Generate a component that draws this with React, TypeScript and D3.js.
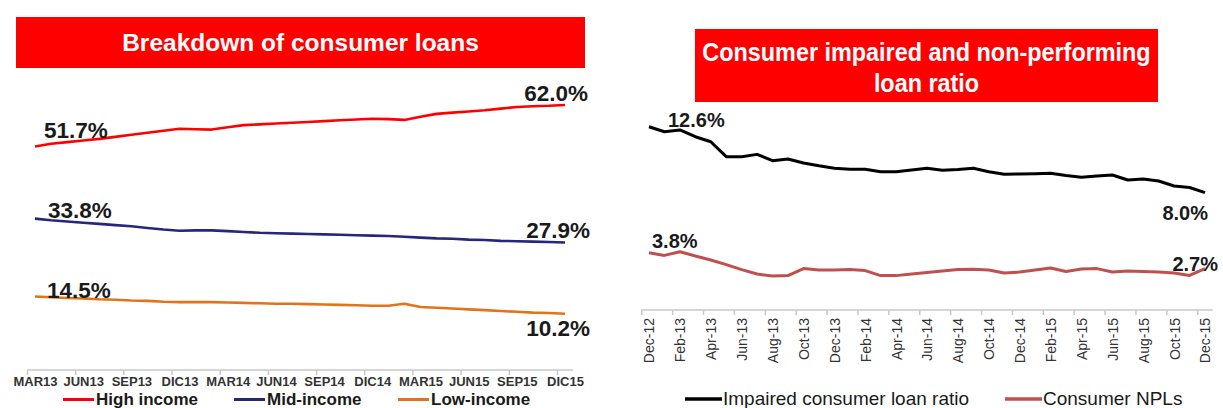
import { useEffect, useRef } from "react";
import * as d3 from "d3";

// left chart: breakdown of consumer loans (monthly, %)
const loanMonths = [
  "MAR13", "ABR13", "MAY13", "JUN13", "JUL13", "AGO13", "SEP13", "OCT13", "NOV13", "DIC13",
  "ENE14", "FEB14", "MAR14", "ABR14", "MAY14", "JUN14", "JUL14", "AGO14", "SEP14", "OCT14", "NOV14", "DIC14",
  "ENE15", "FEB15", "MAR15", "ABR15", "MAY15", "JUN15", "JUL15", "AGO15", "SEP15", "OCT15", "NOV15", "DIC15",
];
const highIncome = [
  51.7, 52.4, 52.8, 53.2, 53.6, 54.1, 54.6, 55.1, 55.6, 56.1, 56.0, 55.9, 56.5, 57.0, 57.2, 57.4, 57.6,
  57.8, 58.0, 58.2, 58.4, 58.6, 58.5, 58.3, 59.1, 59.8, 60.1, 60.4, 60.7, 61.1, 61.5, 61.7, 61.8, 62.0,
];
const midIncome = [
  33.8, 33.4, 33.1, 32.8, 32.5, 32.2, 31.9, 31.5, 31.1, 30.8, 30.9, 30.9, 30.7, 30.5, 30.3, 30.2, 30.1,
  30.0, 29.9, 29.8, 29.7, 29.6, 29.5, 29.3, 29.1, 28.9, 28.8, 28.6, 28.5, 28.3, 28.2, 28.1, 28.0, 27.9,
];
const lowIncome = [
  14.5, 14.3, 14.1, 14.0, 13.8, 13.7, 13.5, 13.4, 13.2, 13.1, 13.1, 13.1, 13.0, 12.9, 12.8, 12.7, 12.7,
  12.6, 12.5, 12.4, 12.3, 12.2, 12.2, 12.7, 11.9, 11.7, 11.5, 11.3, 11.1, 10.9, 10.7, 10.5, 10.4, 10.2,
];

// right chart: impaired and non-performing ratio (monthly, %)
const ratioMonths = [
  "Dec-12", "Jan-13", "Feb-13", "Mar-13", "Apr-13", "May-13", "Jun-13", "Jul-13", "Aug-13", "Sep-13",
  "Oct-13", "Nov-13", "Dec-13", "Jan-14", "Feb-14", "Mar-14", "Apr-14", "May-14", "Jun-14", "Jul-14",
  "Aug-14", "Sep-14", "Oct-14", "Nov-14", "Dec-14", "Jan-15", "Feb-15", "Mar-15", "Apr-15", "May-15",
  "Jun-15", "Jul-15", "Aug-15", "Sep-15", "Oct-15", "Nov-15", "Dec-15",
];
const impairedRatio = [
  12.6, 12.25, 12.37, 11.9, 11.55, 10.51, 10.51, 10.67, 10.23, 10.35, 10.07, 9.87, 9.7, 9.63, 9.63,
  9.46, 9.46, 9.58, 9.7, 9.56, 9.61, 9.7, 9.46, 9.28, 9.3, 9.32, 9.35, 9.19, 9.07, 9.16, 9.23, 8.88,
  8.95, 8.81, 8.46, 8.36, 8.0,
];
const consumerNpl = [
  3.8, 3.62, 3.88, 3.58, 3.3, 2.98, 2.63, 2.32, 2.18, 2.21, 2.7, 2.6, 2.61, 2.63, 2.56, 2.21, 2.21,
  2.32, 2.43, 2.53, 2.63, 2.65, 2.6, 2.39, 2.46, 2.6, 2.74, 2.5, 2.67, 2.7, 2.46, 2.53, 2.5, 2.46,
  2.39, 2.22, 2.7,
];

const FONT = "'Liberation Sans', Arial, sans-serif";

const App = () => {
  const ref = useRef<SVGSVGElement>(null);

  useEffect(() => {
    const svg = d3.select(ref.current);
    svg.selectAll("*").remove();
    svg.attr("font-family", FONT);

    const pct = (v: number) => v.toFixed(1) + "%";

    // ---------- left chart ----------
    const x1 = d3.scalePoint<string>().domain(loanMonths).range([35, 565]);
    const y1 = d3.scaleLinear().domain([0, 62]).range([354.9, 105]);
    const step1 = x1.step();

    const t1 = svg.append("g");
    t1.append("rect").attr("x", 16).attr("y", 17).attr("width", 569).attr("height", 51).attr("fill", "#ff0000");
    t1.append("text")
      .attr("x", 300.5).attr("y", 51)
      .attr("text-anchor", "middle").attr("fill", "#fff")
      .attr("font-size", 24.5).attr("font-weight", "bold")
      .text("Breakdown of consumer loans");

    const xAxis1 = d3
      .axisBottom(x1)
      .tickValues(loanMonths.filter((_, i) => i % 3 === 0))
      .tickSize(5)
      .tickPadding(2);
    svg.append("g")
      .attr("transform", "translate(0,370)")
      .call(xAxis1)
      .call((g) => g.select(".domain").remove())
      .call((g) => g.selectAll(".tick line").attr("x1", -step1 / 2).attr("x2", -step1 / 2).attr("stroke", "#c8c8c8").attr("stroke-width", 1.5))
      .call((g) => g.selectAll(".tick text").attr("font-size", 13).attr("font-weight", "bold").attr("fill", "#333").attr("font-family", FONT));
    svg.append("line")
      .attr("x1", x1(loanMonths[0])! - step1 / 2).attr("x2", x1(loanMonths[loanMonths.length - 1])! + step1 / 2)
      .attr("y1", 370).attr("y2", 370)
      .attr("stroke", "#c8c8c8").attr("stroke-width", 1.5);

    const line1 = d3.line<number>().x((_, i) => x1(loanMonths[i])!).y((d) => y1(d));
    const leftSeries = [
      { name: "High income", values: highIncome, color: "#ff0000" },
      { name: "Mid-income", values: midIncome, color: "#26267d" },
      { name: "Low-income", values: lowIncome, color: "#e3731b" },
    ];
    leftSeries.forEach((s) => {
      svg.append("path").datum(s.values)
        .attr("fill", "none").attr("stroke", s.color).attr("stroke-width", 2.6)
        .attr("stroke-linejoin", "round")
        .attr("d", line1);
    });

    // value labels (first / last)
    const lastL = loanMonths[loanMonths.length - 1];
    const leftLabels = [
      { v: highIncome[0], x: x1(loanMonths[0])! + 9, dy: -9, anchor: "start" },
      { v: highIncome[highIncome.length - 1], x: x1(lastL)! + 23, dy: -4, anchor: "end" },
      { v: midIncome[0], x: x1(loanMonths[0])! + 13, dy: -1, anchor: "start" },
      { v: midIncome[midIncome.length - 1], x: x1(lastL)! + 25, dy: -4, anchor: "end" },
      { v: lowIncome[0], x: x1(loanMonths[0])! + 12, dy: 2, anchor: "start" },
      { v: lowIncome[lowIncome.length - 1], x: x1(lastL)! + 25, dy: 22, anchor: "end" },
    ];
    svg.append("g").selectAll("text").data(leftLabels).enter().append("text")
      .attr("x", (d) => d.x).attr("y", (d) => y1(d.v) + d.dy)
      .attr("text-anchor", (d) => d.anchor)
      .attr("font-size", 22.5).attr("font-weight", "bold").attr("fill", "#1a1a1a")
      .text((d) => pct(d.v));

    // legend
    const legX1 = [63, 234, 398];
    const leg1 = svg.append("g").selectAll("g").data(leftSeries).enter().append("g")
      .attr("transform", (_, i) => `translate(${legX1[i]},399.5)`);
    leg1.append("line").attr("x1", 0).attr("x2", 31).attr("y1", 0).attr("y2", 0)
      .attr("stroke", (d) => d.color).attr("stroke-width", 3);
    leg1.append("text").attr("x", 33).attr("y", 5.5)
      .attr("font-size", 17).attr("font-weight", "bold").attr("fill", "#1a1a1a")
      .text((d) => d.name);

    // ---------- right chart ----------
    const x2 = d3.scalePoint<string>().domain(ratioMonths).range([649, 1205]);
    const y2 = d3.scaleLinear().domain([0, 12.6]).range([307.3, 126.7]);
    const step2 = x2.step();

    const t2 = svg.append("g");
    t2.append("rect").attr("x", 695).attr("y", 29).attr("width", 463).attr("height", 73).attr("fill", "#ff0000");
    const t2text = t2.append("g").attr("transform", "translate(926.5,0) scale(0.9,1)");
    ["Consumer impaired and non-performing", "loan ratio"].forEach((l, i) => {
      t2text.append("text")
        .attr("x", 0).attr("y", 61 + i * 31)
        .attr("text-anchor", "middle").attr("fill", "#fff")
        .attr("font-size", 26).attr("font-weight", "bold")
        .text(l);
    });

    const xAxis2 = d3
      .axisBottom(x2)
      .tickValues(ratioMonths.filter((_, i) => i % 2 === 0))
      .tickSize(5);
    svg.append("g")
      .attr("transform", "translate(0,310)")
      .call(xAxis2)
      .call((g) => g.select(".domain").remove())
      .call((g) => g.selectAll(".tick line").attr("x1", -step2 / 2).attr("x2", -step2 / 2).attr("stroke", "#c8c8c8").attr("stroke-width", 1.5))
      .call((g) =>
        g.selectAll(".tick text")
          .attr("transform", "rotate(-90)")
          .attr("text-anchor", "end")
          .attr("x", -8).attr("y", 0).attr("dy", "0.35em")
          .attr("font-size", 14).attr("fill", "#333").attr("font-family", FONT)
      );
    svg.append("line")
      .attr("x1", x2(ratioMonths[0])! - step2 / 2).attr("x2", x2(ratioMonths[ratioMonths.length - 1])! + step2 / 2)
      .attr("y1", 310).attr("y2", 310)
      .attr("stroke", "#c8c8c8").attr("stroke-width", 1.5);

    const line2 = d3.line<number>().x((_, i) => x2(ratioMonths[i])!).y((d) => y2(d));
    const rightSeries = [
      { name: "Impaired consumer loan ratio", values: impairedRatio, color: "#000000" },
      { name: "Consumer NPLs", values: consumerNpl, color: "#c0504d" },
    ];
    rightSeries.forEach((s) => {
      svg.append("path").datum(s.values)
        .attr("fill", "none").attr("stroke", s.color).attr("stroke-width", 3)
        .attr("stroke-linejoin", "round")
        .attr("d", line2);
    });

    const lastR = ratioMonths[ratioMonths.length - 1];
    const rightLabels = [
      { v: impairedRatio[0], x: x2(ratioMonths[0])! + 19, dy: 0, anchor: "start" },
      { v: impairedRatio[impairedRatio.length - 1], x: x2(lastR)! + 3, dy: 27, anchor: "end" },
      { v: consumerNpl[0], x: x2(ratioMonths[0])! + 3, dy: -5, anchor: "start" },
      { v: consumerNpl[consumerNpl.length - 1], x: x2(lastR)! + 13, dy: 2, anchor: "end" },
    ];
    svg.append("g").selectAll("text").data(rightLabels).enter().append("text")
      .attr("x", (d) => d.x).attr("y", (d) => y2(d.v) + d.dy)
      .attr("text-anchor", (d) => d.anchor)
      .attr("font-size", 20).attr("font-weight", "bold").attr("fill", "#1a1a1a")
      .text((d) => pct(d.v));

    const legX2 = [685, 1005];
    const leg2 = svg.append("g").selectAll("g").data(rightSeries).enter().append("g")
      .attr("transform", (_, i) => `translate(${legX2[i]},399)`);
    leg2.append("line").attr("x1", 0).attr("x2", 37).attr("y1", 0).attr("y2", 0)
      .attr("stroke", (d) => d.color).attr("stroke-width", 3.5);
    leg2.append("text").attr("x", 38).attr("y", 6)
      .attr("font-size", 19).attr("fill", "#1a1a1a")
      .text((d) => d.name);
  }, []);

  return (
    <svg
      ref={ref}
      width={1223}
      height={408}
      style={{ position: "absolute", left: 0, top: 0, background: "#fff" }}
    />
  );
};

export default App;
